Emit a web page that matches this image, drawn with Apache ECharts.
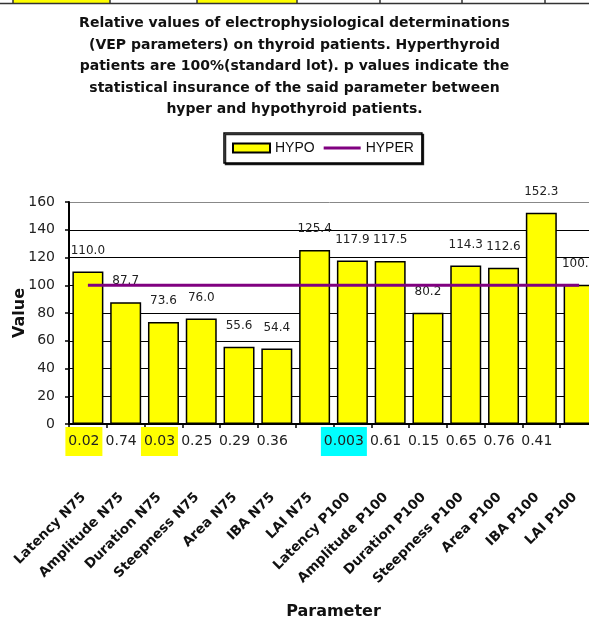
<!DOCTYPE html>
<html>
<head>
<meta charset="utf-8">
<script src="https://cdn.jsdelivr.net/npm/echarts@6/dist/echarts.min.js"></script>
<style>
  html, body { margin: 0; padding: 0; background: #fff; }
  #chart { width: 589px; height: 621px; }
</style>
</head>
<body>
<div id="chart"></div>
<script>
// VEP parameters, hypothyroid values relative to hyperthyroid (=100)
const categories = [
  'Latency N75', 'Amplitude N75', 'Duration N75', 'Steepness N75', 'Area N75',
  'IBA N75', 'LAI N75', 'Latency P100', 'Amplitude P100', 'Duration P100',
  'Steepness P100', 'Area P100', 'IBA P100', 'LAI P100'
];
const hypoValues = [110.0, 87.7, 73.6, 76.0, 55.6, 54.4, 125.4, 117.9, 117.5, 80.2, 114.3, 112.6, 152.3, 100.4];
const hyperValues = [100, 100, 100, 100, 100, 100, 100, 100, 100, 100, 100, 100, 100, 100];
// p values (hypo vs hyper) per parameter; '' = not given
const pValues = ['0.02', '0.74', '0.03', '0.25', '0.29', '0.36', '', '0.003', '0.61', '0.15', '0.65', '0.76', '0.41', ''];
const yTicks = { min: 0, max: 160, step: 20 };

const FONT = 'DejaVu Sans';

// significant p values get a highlighted cell
function pLabel(value, idx) {
  const p = pValues[idx];
  if (p === '') return '';
  const v = parseFloat(p);
  if (v < 0.01) return '{hc|' + p + '}{gap2|}';
  if (v < 0.05) return '{hy|' + p + '}{gap|}';
  return '{n|' + p + '}';
}

const chart = echarts.init(document.getElementById('chart'), null, { renderer: 'canvas' });

const option = {
  backgroundColor: '#fff',
  animation: false,
  title: {
    text: 'Relative values of electrophysiological determinations\n' +
          '(VEP parameters) on thyroid patients. Hyperthyroid\n' +
          'patients are 100%(standard lot). p values indicate the\n' +
          'statistical insurance of the said parameter between\n' +
          'hyper and hypothyroid patients.',
    left: 'center',
    top: 8,
    textStyle: {
      fontFamily: FONT,
      fontWeight: 'bold',
      fontSize: 14,
      lineHeight: 21.5,
      color: '#111'
    }
  },
  legend: {
    data: [
      { name: 'HYPO', icon: 'rect' },
      // thin bar centred in the icon box
      { name: 'HYPER', icon: 'path://M0,0 L0,0 M0,3 L38,3 L38,6 L0,6 Z M38,9 L38,9' }
    ],
    left: 224,
    top: 133,
    padding: [8, 8, 8, 8],
    itemWidth: 37,
    itemHeight: 9,
    itemGap: 9,
    backgroundColor: '#fff',
    borderColor: '#000',
    borderWidth: 1.5,
    shadowColor: 'rgba(0,0,0,0.85)',
    shadowOffsetX: 1.5,
    shadowOffsetY: 1.5,
    shadowBlur: 0,
    textStyle: { fontFamily: 'Liberation Sans', fontSize: 14, color: '#111' }
  },
  grid: {
    left: 69,
    top: 202,
    width: 529,
    height: 222,
    containLabel: false,
    outerBoundsMode: 'none'
  },
  xAxis: [
    {
      type: 'category',
      data: categories,
      position: 'bottom',
      boundaryGap: true,
      axisLine: { show: true, lineStyle: { color: '#000', width: 2 } },
      axisTick: { show: true, inside: false, length: 4, lineStyle: { color: '#000', width: 1.5 } },
      axisLabel: {
        interval: 0,
        rotate: 45,
        margin: 67,
        padding: [0, 6, 0, 0],
        fontFamily: FONT,
        fontWeight: 'bold',
        fontSize: 13.5,
        color: '#111'
      },
      name: 'Parameter',
      nameLocation: 'middle',
      nameGap: 180,
      nameMoveOverlap: false,
      nameTextStyle: { fontFamily: FONT, fontWeight: 'bold', fontSize: 16, color: '#111' },
      splitLine: { show: false }
    },
    {
      type: 'category',
      data: categories,
      position: 'bottom',
      offset: 0,
      boundaryGap: true,
      axisLine: { show: false },
      axisTick: { show: false },
      splitLine: { show: false },
      axisLabel: {
        interval: 0,
        margin: 3,
        formatter: pLabel,
        rich: {
          n: { fontFamily: FONT, fontSize: 14, color: '#222', lineHeight: 29, height: 29, padding: [0, 9, 0, 0] },
          hy: { fontFamily: FONT, fontSize: 14, color: '#222', lineHeight: 29, height: 29, width: 37, align: 'center',
                backgroundColor: '#ffff00' },
          hc: { fontFamily: FONT, fontSize: 14, color: '#222', lineHeight: 29, height: 29, width: 46, align: 'center',
                backgroundColor: '#00ffff' },
          gap: { width: 8, lineHeight: 29, height: 29 },
          gap2: { width: 17, lineHeight: 29, height: 29 }
        }
      }
    }
  ],
  yAxis: {
    type: 'value',
    min: yTicks.min,
    max: yTicks.max,
    interval: yTicks.step,
    axisLine: { show: true, lineStyle: { color: '#000', width: 2 } },
    axisTick: { show: true, length: 4, lineStyle: { color: '#000', width: 1.5 } },
    axisLabel: { margin: 14, fontFamily: FONT, fontSize: 14, color: '#222' },
    splitLine: {
      show: true,
      lineStyle: {
        color: ['#000', '#000', '#000', '#000', '#000', '#000', '#000', '#000', '#888'],
        width: 1
      }
    },
    name: 'Value',
    nameLocation: 'middle',
    nameGap: 41,
    nameMoveOverlap: false,
    nameTextStyle: { fontFamily: FONT, fontWeight: 'bold', fontSize: 16, color: '#111' }
  },
  series: [
    {
      name: 'HYPO',
      type: 'bar',
      xAxisIndex: 0,
      data: hypoValues,
      barWidth: '82%',
      itemStyle: { color: '#ffff00', borderColor: '#000', borderWidth: 1.5 },
      label: {
        show: true,
        position: 'top',
        distance: 15,
        formatter: (p) => p.value.toFixed(1),
        fontFamily: FONT,
        fontSize: 12,
        color: '#222'
      },
      z: 2
    },
    {
      name: 'HYPER',
      type: 'line',
      xAxisIndex: 0,
      data: hyperValues,
      symbol: 'none',
      showSymbol: false,
      itemStyle: { color: '#800080' },
      lineStyle: { color: '#800080', width: 3 },
      z: 3
    }
  ],
  graphic: [
    // worksheet cell strip along the top edge
    { type: 'rect', shape: { x: 13, y: 0, width: 97, height: 3 }, style: { fill: '#ffff00' }, silent: true },
    { type: 'rect', shape: { x: 197, y: 0, width: 100, height: 3 }, style: { fill: '#ffff00' }, silent: true },
    { type: 'line', shape: { x1: 0, y1: 3.5, x2: 589, y2: 3.5 }, style: { stroke: '#333', lineWidth: 1.5 }, silent: true },
    { type: 'line', shape: { x1: 13, y1: 0, x2: 13, y2: 4 }, style: { stroke: '#333', lineWidth: 1.5 }, silent: true },
    { type: 'line', shape: { x1: 110, y1: 0, x2: 110, y2: 4 }, style: { stroke: '#333', lineWidth: 1.5 }, silent: true },
    { type: 'line', shape: { x1: 197, y1: 0, x2: 197, y2: 4 }, style: { stroke: '#333', lineWidth: 1.5 }, silent: true },
    { type: 'line', shape: { x1: 297, y1: 0, x2: 297, y2: 4 }, style: { stroke: '#333', lineWidth: 1.5 }, silent: true },
    { type: 'line', shape: { x1: 380, y1: 0, x2: 380, y2: 4 }, style: { stroke: '#333', lineWidth: 1.5 }, silent: true },
    { type: 'line', shape: { x1: 462, y1: 0, x2: 462, y2: 4 }, style: { stroke: '#333', lineWidth: 1.5 }, silent: true },
    { type: 'line', shape: { x1: 545, y1: 0, x2: 545, y2: 4 }, style: { stroke: '#333', lineWidth: 1.5 }, silent: true }
  ]
};

chart.setOption(option);
</script>
</body>
</html>
